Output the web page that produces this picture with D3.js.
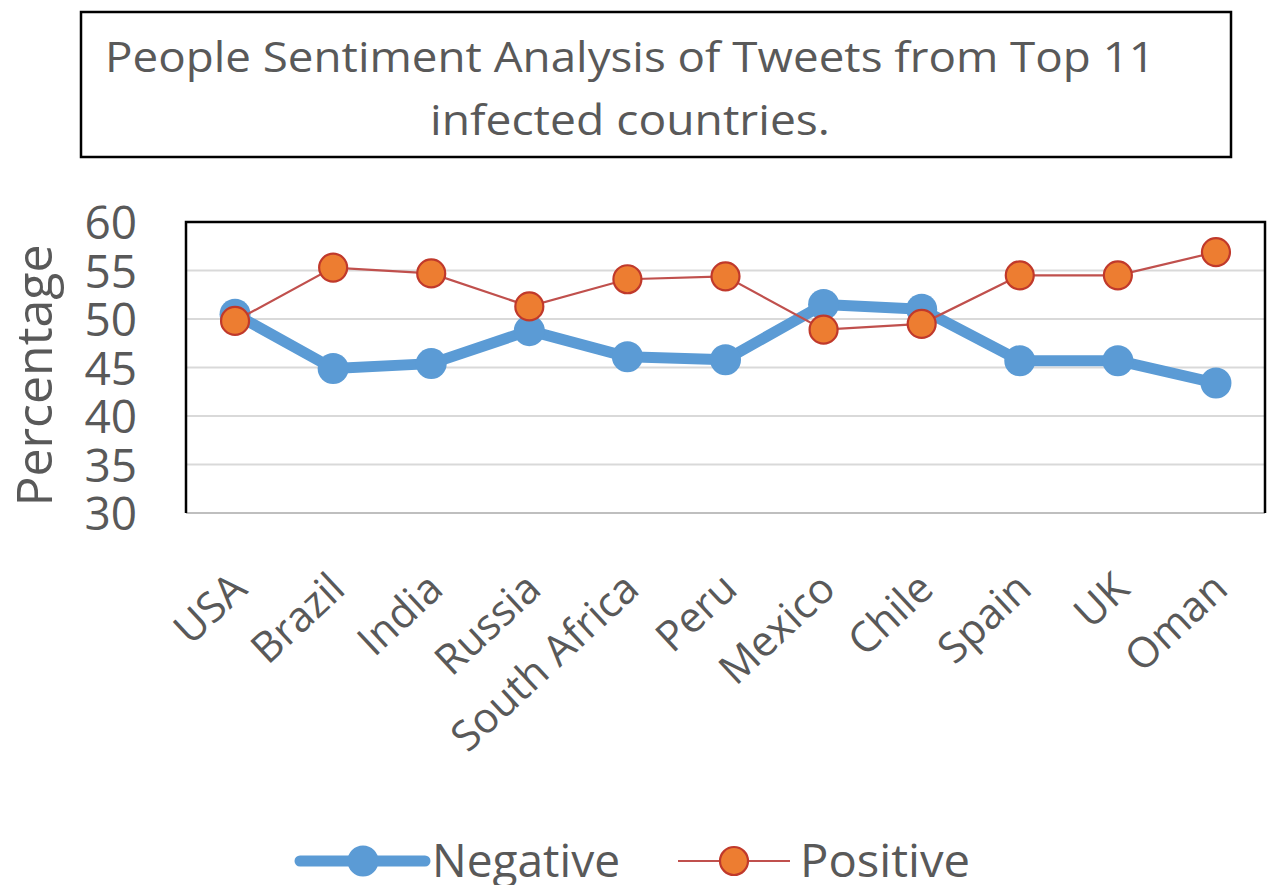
<!DOCTYPE html>
<html>
<head>
<meta charset="utf-8">
<script src="https://cdn.jsdelivr.net/npm/d3@7"></script>
<style>
  html, body { margin: 0; padding: 0; background: #fff; }
  svg { display: block; }
  text { font-family: "Open Sans", "DejaVu Sans", sans-serif; fill: #595959; }
</style>
</head>
<body>
<svg id="chart" width="1271" height="885"></svg>
<script>
// Countries along the x axis
const countries = ["USA", "Brazil", "India", "Russia", "South Africa", "Peru",
                   "Mexico", "Chile", "Spain", "UK", "Oman"];
// Share of tweets (%) per sentiment
const negative = [50.5, 44.9, 45.4, 48.8, 46.1, 45.8, 51.5, 51.0, 45.7, 45.7, 43.4];
const positive = [49.8, 55.3, 54.7, 51.3, 54.1, 54.4, 48.9, 49.5, 54.5, 54.5, 56.9];
// Y axis ticks
const yTicks = [30, 35, 40, 45, 50, 55, 60];
const titleLines = ["People Sentiment Analysis of Tweets from Top 11", "infected countries."];
const seriesNames = ["Negative", "Positive"];

const svg = d3.select("#chart");
const plot = { left: 186, right: 1265, top: 222, bottom: 513 };

const x = d3.scaleBand().domain(countries).range([plot.left, plot.right]).paddingInner(0).paddingOuter(0);
const cx = d => x(d) + x.bandwidth() / 2;
const y = d3.scaleLinear().domain([30, 60]).range([plot.bottom, plot.top]);

// Title box
svg.append("rect")
  .attr("x", 81).attr("y", 12).attr("width", 1150).attr("height", 145)
  .attr("fill", "#fff").attr("stroke", "#000").attr("stroke-width", 2.5);
svg.append("text").attr("x", 630).attr("y", 72).attr("text-anchor", "middle")
  .attr("font-size", 42).attr("textLength", 1050).attr("lengthAdjust", "spacingAndGlyphs")
  .text(titleLines[0]);
svg.append("text").attr("x", 630).attr("y", 135).attr("text-anchor", "middle")
  .attr("font-size", 42).attr("textLength", 400).attr("lengthAdjust", "spacingAndGlyphs")
  .text(titleLines[1]);

// Horizontal gridlines
svg.append("g")
  .selectAll("line")
  .data(yTicks.filter(t => t > 30 && t < 60))
  .join("line")
  .attr("x1", plot.left).attr("x2", plot.right)
  .attr("y1", d => y(d)).attr("y2", d => y(d))
  .attr("stroke", "#d9d9d9").attr("stroke-width", 2);

// Y axis labels
const yAxis = d3.axisLeft(y).tickValues(yTicks).tickSize(0).tickPadding(0);
const gy = svg.append("g").attr("transform", `translate(137,0)`).call(yAxis);
gy.select(".domain").remove();
gy.selectAll("text")
  .attr("font-size", 46).attr("font-family", "Open Sans").attr("fill", "#595959")
  .attr("dy", "0.36em");

// Y axis title
svg.append("text")
  .attr("transform", `translate(52,${(plot.top + plot.bottom) / 2 + 8}) rotate(-90)`)
  .attr("text-anchor", "middle").attr("font-size", 50)
  .text("Percentage");

// X axis labels, rotated
const xAxis = d3.axisBottom(x).tickSize(0).tickPadding(0);
const gx = svg.append("g").attr("transform", `translate(0,${plot.bottom})`).call(xAxis);
gx.select(".domain").remove();
gx.selectAll("text")
  .attr("font-size", 42).attr("font-family", "Open Sans").attr("fill", "#595959")
  .attr("text-anchor", "end")
  .attr("transform", "translate(4,68) rotate(-43)")
  .attr("dy", "0.35em").attr("y", 0).attr("x", 0);

// Plot area frame
svg.append("line").attr("x1", plot.left).attr("x2", plot.right)
  .attr("y1", plot.bottom).attr("y2", plot.bottom)
  .attr("stroke", "#bfbfbf").attr("stroke-width", 2);
svg.append("path")
  .attr("d", `M${plot.left},${plot.bottom}V${plot.top}H${plot.right}V${plot.bottom}`)
  .attr("fill", "none").attr("stroke", "#000").attr("stroke-width", 2.5);

const line = d3.line().x((d, i) => cx(countries[i])).y(d => y(d));

// Negative series: thick blue line
svg.append("path").datum(negative)
  .attr("d", line).attr("fill", "none")
  .attr("stroke", "#5b9bd5").attr("stroke-width", 11).attr("stroke-linejoin", "round");
svg.append("g").selectAll("circle").data(negative).join("circle")
  .attr("cx", (d, i) => cx(countries[i])).attr("cy", d => y(d))
  .attr("r", 15.5).attr("fill", "#5b9bd5");

// Positive series: thin red line with orange markers
svg.append("path").datum(positive)
  .attr("d", line).attr("fill", "none")
  .attr("stroke", "#c0504d").attr("stroke-width", 2.2);
svg.append("g").selectAll("circle").data(positive).join("circle")
  .attr("cx", (d, i) => cx(countries[i])).attr("cy", d => y(d))
  .attr("r", 14).attr("fill", "#ed7d31")
  .attr("stroke", "#c0392b").attr("stroke-width", 2.2);

// Legend
const ly = 861;
const lg = svg.append("g");
lg.append("line").attr("x1", 300).attr("x2", 425).attr("y1", ly).attr("y2", ly)
  .attr("stroke", "#5b9bd5").attr("stroke-width", 11).attr("stroke-linecap", "round");
lg.append("circle").attr("cx", 363).attr("cy", ly).attr("r", 15.5).attr("fill", "#5b9bd5");
lg.append("text").attr("x", 432).attr("y", ly + 16).attr("font-size", 46)
  .attr("textLength", 188).attr("lengthAdjust", "spacingAndGlyphs").text(seriesNames[0]);
lg.append("line").attr("x1", 678).attr("x2", 790).attr("y1", ly).attr("y2", ly)
  .attr("stroke", "#c0504d").attr("stroke-width", 2.2);
lg.append("circle").attr("cx", 734).attr("cy", ly).attr("r", 14)
  .attr("fill", "#ed7d31").attr("stroke", "#c0392b").attr("stroke-width", 2.2);
lg.append("text").attr("x", 800).attr("y", ly + 16).attr("font-size", 46)
  .attr("textLength", 170).attr("lengthAdjust", "spacingAndGlyphs").text(seriesNames[1]);
</script>
</body>
</html>
